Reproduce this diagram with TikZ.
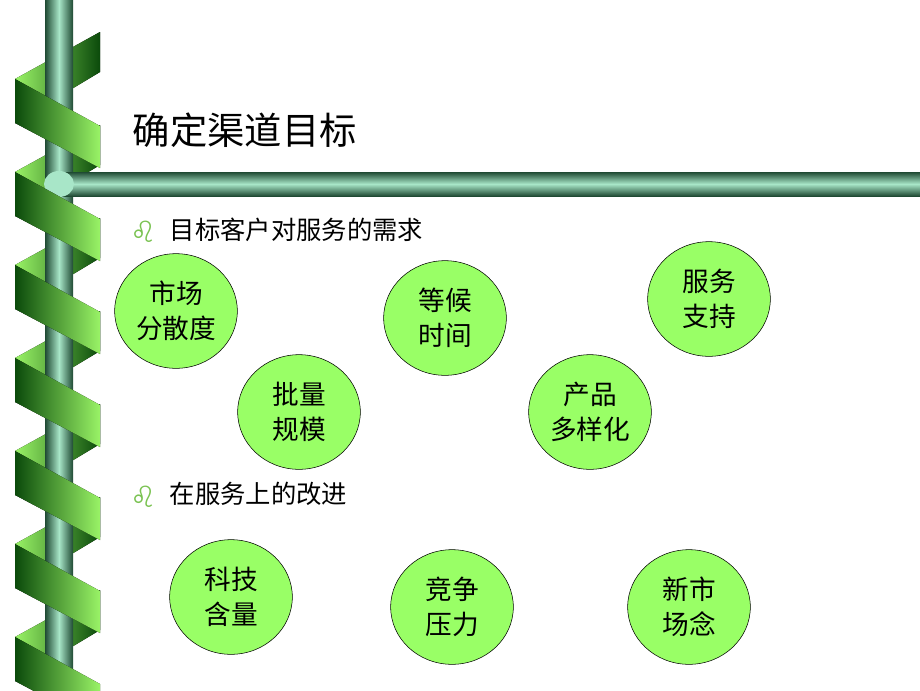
\documentclass[tikz,border=0pt]{standalone}
\usepackage{fontspec}
\newfontfamily\cjk{Noto Sans CJK SC}
\newfontfamily\djsans{DejaVu Sans}
\definecolor{dgreen}{HTML}{0B4A0B}
\definecolor{lgreen}{HTML}{99F366}
\definecolor{circ}{HTML}{99FF66}
\definecolor{mint}{HTML}{A8E6C8}
\definecolor{pdark}{HTML}{1F4A33}
\usetikzlibrary{shapes.geometric}
\tikzset{bub/.style={ellipse,draw=black,fill=circ,minimum width=92pt,minimum height=86pt,inner sep=0pt,align=center,font=\cjk\fontsize{20}{26}\selectfont},
 bul/.style={anchor=west,font=\cjk\fontsize{19}{22}\selectfont}}
\begin{document}
\begin{tikzpicture}[x=0.75pt,y=-0.75pt]
\useasboundingbox (0,0) rectangle (920,690);
\foreach \k in {0,...,6}{
 \pgfmathsetmacro{\y}{79+93*\k}
 \fill[left color=lgreen,right color=dgreen] (15,\y) -- (100,\y-47) -- (100,\y-7) -- (15,\y+44) -- cycle;
}
\fill[left color=pdark,right color=pdark,middle color=mint] (45,0) rectangle (73,690);
\fill[top color=pdark,bottom color=pdark,middle color=mint] (60,172) rectangle (920,196);
\fill[mint] (59,184) ellipse (15 and 13);
\foreach \k in {0,...,6}{
 \pgfmathsetmacro{\y}{79+93*\k}
 \fill[left color=dgreen,right color=lgreen] (15,\y) -- (100,\y+47) -- (100,\y+89) -- (15,\y+44) -- cycle;
}
\node[anchor=west,font=\cjk\fontsize{28}{30}\selectfont] (t) at (128,130) {确定渠道目标};
\node[bul,text=lgreen!80!black,font=\djsans\fontsize{22}{24}\selectfont] (b1) at (126,232) {♌};
\node[bul] (l1) at (165,230) {目标客户对服务的需求};
\node[bul,text=lgreen!80!black,font=\djsans\fontsize{22}{24}\selectfont] (b2) at (126,497) {♌};
\node[bul] (l2) at (165,494) {在服务上的改进};
\node[bub] (c1) at (176,311) {市场\\分散度};
\node[bub] (c2) at (445,318) {等候\\时间};
\node[bub] (c3) at (709,299) {服务\\支持};
\node[bub] (c4) at (299,412) {批量\\规模};
\node[bub] (c5) at (590,412) {产品\\多样化};
\node[bub] (c6) at (231,597) {科技\\含量};
\node[bub] (c7) at (452,607) {竞争\\压力};
\node[bub] (c8) at (689,607) {新市\\场念};
\end{tikzpicture}
\end{document}
